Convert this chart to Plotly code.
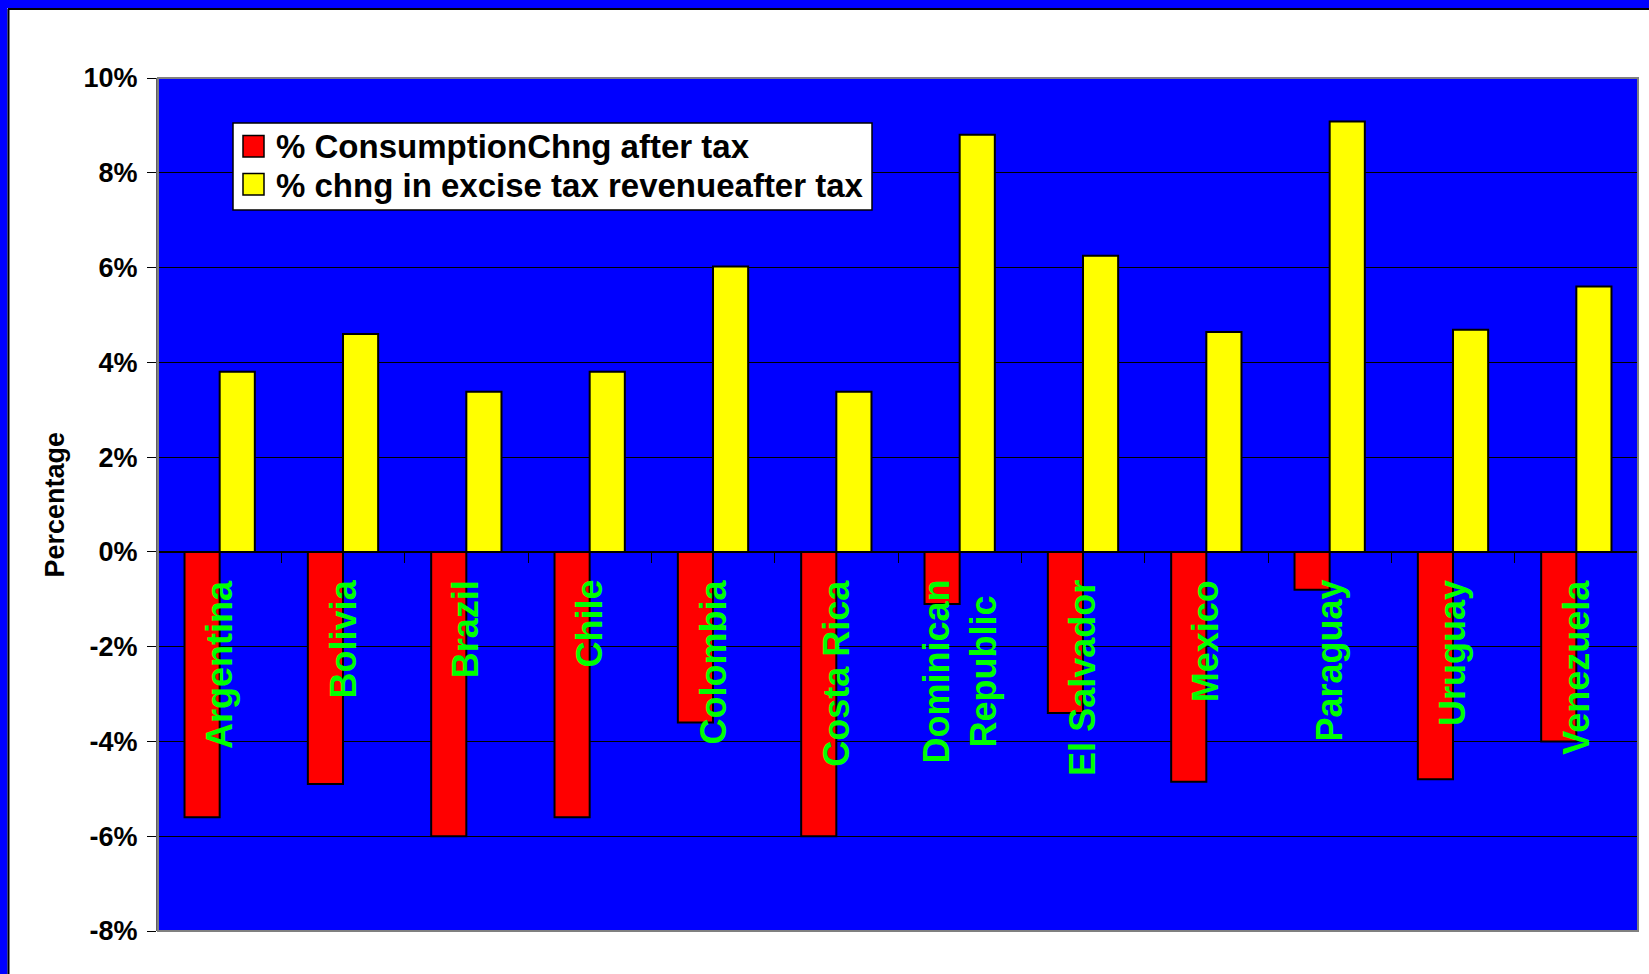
import plotly.graph_objects as go

countries = ["Argentina", "Bolivia", "Brazil", "Chile", "Colombia", "Costa Rica",
             "Dominican<br>Republic", "El Salvador", "Mexico", "Paraguay", "Uruguay", "Venezuela"]
consumption_chng = [-5.6, -4.9, -6.0, -5.6, -3.6, -6.0, -1.1, -3.4, -4.85, -0.8, -4.8, -4.0]
revenue_chng = [3.8, 4.6, 3.38, 3.8, 6.02, 3.38, 8.8, 6.25, 4.64, 9.08, 4.69, 5.6]
series_names = ["% ConsumptionChng after tax", "% chng in excise tax revenueafter tax"]
ytick_vals = [-8, -6, -4, -2, 0, 2, 4, 6, 8, 10]
ytick_text = ["-8%", "-6%", "-4%", "-2%", "0%", "2%", "4%", "6%", "8%", "10%"]

W, H = 1649, 974
L, R, T, B = 158, 1638, 78, 931
FONT = "Liberation Sans, Arial, sans-serif"


def px(x):
    return (x - L) / (R - L)


def py(y):
    return (B - y) / (B - T)


fig = go.Figure()
fig.add_trace(go.Bar(x=countries, y=consumption_chng, name=series_names[0],
                     marker=dict(color="#FF0000", line=dict(color="black", width=2))))
fig.add_trace(go.Bar(x=countries, y=revenue_chng, name=series_names[1],
                     marker=dict(color="#FFFF00", line=dict(color="black", width=2))))

shapes = [
    # plot area border
    dict(type="rect", xref="paper", yref="paper", x0=0, x1=1, y0=0, y1=1,
         line=dict(color="#808080", width=2), layer="above"),
    # outer blue frame (top and left)
    dict(type="rect", xref="paper", yref="paper", x0=px(0), x1=px(W), y0=py(8), y1=py(0),
         fillcolor="#0000FF", line=dict(width=0)),
    dict(type="rect", xref="paper", yref="paper", x0=px(0), x1=px(7.5), y0=py(H), y1=py(0),
         fillcolor="#0000FF", line=dict(width=0)),
    dict(type="line", xref="paper", yref="paper", x0=px(8), x1=px(W), y0=py(9), y1=py(9),
         line=dict(color="black", width=2)),
    dict(type="line", xref="paper", yref="paper", x0=px(8.5), x1=px(8.5), y0=py(9), y1=py(H),
         line=dict(color="black", width=2)),
    # legend box
    dict(type="rect", xref="paper", yref="paper", x0=px(233), x1=px(872), y0=py(210), y1=py(123),
         fillcolor="white", line=dict(color="black", width=1.5), layer="above"),
    dict(type="rect", xref="paper", yref="paper", x0=px(243), x1=px(264), y0=py(157), y1=py(135.5),
         fillcolor="#FF0000", line=dict(color="black", width=1.5), layer="above"),
    dict(type="rect", xref="paper", yref="paper", x0=px(243), x1=px(264), y0=py(195), y1=py(173.5),
         fillcolor="#FFFF00", line=dict(color="black", width=1.5), layer="above"),
]

annotations = []
for c in countries:
    annotations.append(dict(x=c, y=0, xref="x", yref="y", yshift=-26, yanchor="top",
                            xanchor="center", textangle=-90, text=c, showarrow=False, align="center",
                            font=dict(family=FONT, size=36, color="#00FF00", weight="bold")))
for i, name in enumerate(series_names):
    annotations.append(dict(x=px(274), y=py(147 + 38 * i), xref="paper", yref="paper",
                            xanchor="left", yanchor="middle", text=name, showarrow=False,
                            font=dict(family=FONT, size=33, color="black", weight="bold")))
annotations.append(dict(x=px(54), y=0.5, xref="paper", yref="paper", xanchor="center",
                        yanchor="middle", textangle=-90, text="Percentage", showarrow=False,
                        font=dict(family=FONT, size=27, color="black", weight="bold")))

fig.update_layout(
    width=W, height=H,
    margin=dict(l=L, r=W - R, t=T, b=H - B, autoexpand=False),
    paper_bgcolor="white", plot_bgcolor="#0000FF",
    barmode="group", bargap=0.43, bargroupgap=0,
    showlegend=False,
    shapes=shapes, annotations=annotations,
    font=dict(family=FONT),
    xaxis=dict(type="category", anchor="free", position=8 / 18, showline=True,
               linecolor="black", linewidth=2, ticks="outside", tickson="boundaries",
               ticklen=10, tickcolor="black", showticklabels=False, showgrid=False,
               zeroline=False),
    yaxis=dict(range=[-8, 10], tickvals=ytick_vals, ticktext=ytick_text, ticks="outside",
               ticklen=9, tickcolor="black", tickwidth=1, showgrid=True, gridcolor="black",
               gridwidth=1, zeroline=False, showline=True, linecolor="#606060", linewidth=2,
               ticklabelstandoff=4,
               tickfont=dict(family=FONT, size=27, color="black", weight="bold")),
)

fig.write_html("out.html")
